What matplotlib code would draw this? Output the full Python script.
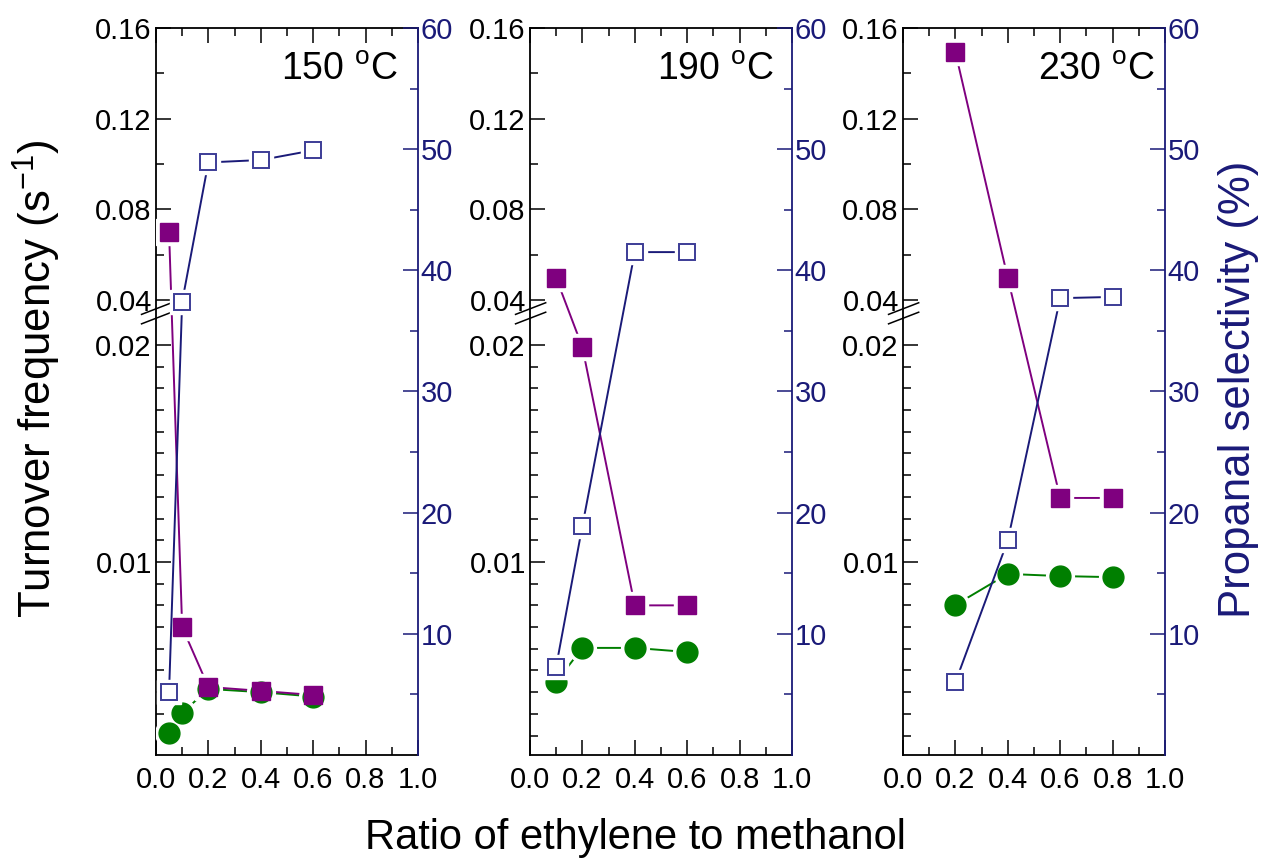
"""Turnover frequency and propanal selectivity vs ethylene/methanol ratio.

Three panels (150, 190, 230 C), broken left axis for TOF and a
right axis for propanal selectivity.
"""

import matplotlib
matplotlib.use("Agg")
import matplotlib.pyplot as plt
import numpy as np
from matplotlib.ticker import FixedLocator, FormatStrFormatter, MultipleLocator

plt.rcParams["font.family"] = ["Liberation Sans", "DejaVu Sans"]
plt.rcParams["mathtext.fontset"] = "custom"
plt.rcParams["mathtext.rm"] = "Liberation Sans"
plt.rcParams["mathtext.it"] = "Liberation Sans:italic"
plt.rcParams["mathtext.bf"] = "Liberation Sans:bold"

# --- data ---
temps = ["150", "190", "230"]

x_150 = [0.05, 0.1, 0.2, 0.4, 0.6]
tof_sq_150 = [0.0700, 0.0070, 0.00424, 0.00406, 0.00387]
tof_ci_150 = [0.00212, 0.00304, 0.00415, 0.00400, 0.00380]
sel_150 = [5.2, 37.4, 48.9, 49.1, 49.9]

x_190 = [0.1, 0.2, 0.4, 0.6]
tof_sq_190 = [0.0497, 0.0199, 0.0080, 0.0080]
tof_ci_190 = [0.00447, 0.00604, 0.00604, 0.00585]
sel_190 = [7.3, 18.9, 41.5, 41.5]

x_230 = [0.2, 0.4, 0.6, 0.8]
tof_sq_230 = [0.1494, 0.0497, 0.01295, 0.01295]
tof_ci_230 = [0.00802, 0.00945, 0.00935, 0.00930]
sel_230 = [6.0, 17.7, 37.7, 37.8]

PURPLE = "#7f007f"
GREEN = "#007f00"
NAVY = "#1a1a78"
SQ_EDGE = "#3c3c96"

# --- broken TOF axis: linear low part, linear high part ---
LOW_REF, LOW_P, LOW_K = 0.01, 193.0, 21700.0     # 0.01 sits 193 px above bottom
HIGH_REF, HIGH_P, HIGH_K = 0.04, 455.0, 2266.7   # 0.04 sits 455 px above bottom
V1, V2 = 0.0215, 0.0365                          # break between these values
P1 = LOW_P + (V1 - LOW_REF) * LOW_K
P2 = HIGH_P + (V2 - HIGH_REF) * HIGH_K
Y_MIN = LOW_REF - LOW_P / LOW_K
Y_MAX = 0.16


def fwd(v):
    v = np.asarray(v, dtype=float)
    low = LOW_P + (v - LOW_REF) * LOW_K
    high = HIGH_P + (v - HIGH_REF) * HIGH_K
    mid = P1 + (v - V1) * (P2 - P1) / (V2 - V1)
    return np.where(v <= V1, low, np.where(v >= V2, high, mid))


def inv(p):
    p = np.asarray(p, dtype=float)
    low = LOW_REF + (p - LOW_P) / LOW_K
    high = HIGH_REF + (p - HIGH_P) / HIGH_K
    mid = V1 + (p - P1) * (V2 - V1) / (P2 - P1)
    return np.where(p <= P1, low, np.where(p >= P2, high, mid))


def series(ax, x, y, marker, color, ms, face, edge, mew):
    ax.plot(x, y, "-", color=color, lw=1.4, zorder=2)
    ax.plot(x, y, ls="none", marker=marker, ms=ms + 5, mfc="white",
            mec="white", zorder=3)
    ax.plot(x, y, ls="none", marker=marker, ms=ms, mfc=face, mec=edge,
            mew=mew, zorder=4)


def panel(left, x, tof_sq, tof_ci, sel, temp, tx):
    ax = fig.add_axes([left, 0.1272, 0.2063, 0.8405])
    ax.set_yscale("function", functions=(fwd, inv))
    ax.set_ylim(Y_MIN, Y_MAX)
    ax.set_xlim(0, 1.0)

    series(ax, x, tof_ci, "o", GREEN, 15, GREEN, GREEN, 1)
    series(ax, x, tof_sq, "s", PURPLE, 13.5, PURPLE, PURPLE, 1)

    ax.yaxis.set_major_locator(FixedLocator([0.01, 0.02, 0.04, 0.08, 0.12, 0.16]))
    minors = [round(0.001 * i, 3) for i in range(2, 20) if i != 10]
    ax.yaxis.set_minor_locator(FixedLocator(minors + [0.06, 0.10, 0.14]))
    ax.yaxis.set_major_formatter(FormatStrFormatter("%g"))
    ax.xaxis.set_major_locator(MultipleLocator(0.2))
    ax.xaxis.set_minor_locator(MultipleLocator(0.1))
    ax.xaxis.set_major_formatter(FormatStrFormatter("%.1f"))
    ax.tick_params(which="both", direction="in", top=True, right=False,
                   width=1.1, labelsize=21)
    ax.tick_params(which="major", length=11)
    ax.tick_params(which="minor", length=5.5)
    ax.tick_params(axis="y", pad=3)
    ax.tick_params(axis="x", pad=8)
    for s in ["left", "top", "bottom"]:
        ax.spines[s].set_linewidth(1.3)
    ax.spines["right"].set_visible(False)

    # break marks on the left spine
    for dy in (0.0, -0.013):
        ax.plot([-0.055, 0.06], [0.606 + dy, 0.622 + dy], transform=ax.transAxes,
                color="black", lw=1.1, clip_on=False, zorder=6)

    ax.text(tx, 0.942, temp + r" $^{\mathrm{o}}$C", transform=ax.transAxes,
            ha="right", va="center", fontsize=27)

    ax2 = ax.twinx()
    ax2.set_ylim(0, 60)
    series(ax2, x, sel, "s", NAVY, 12, "white", SQ_EDGE, 1.4)
    ax2.yaxis.set_major_locator(FixedLocator([10, 20, 30, 40, 50, 60]))
    ax2.yaxis.set_minor_locator(FixedLocator([5, 15, 25, 35, 45, 55]))
    ax2.tick_params(which="both", direction="in", color=NAVY, labelcolor=NAVY,
                    width=1.1, labelsize=21, pad=2)
    ax2.tick_params(which="major", length=11)
    ax2.tick_params(which="minor", length=6)
    ax2.spines["right"].set_color(NAVY)
    ax2.spines["right"].set_linewidth(1.3)
    for s in ["left", "top", "bottom"]:
        ax2.spines[s].set_visible(False)
    return ax, ax2


fig = plt.figure(figsize=(12.7, 8.65), dpi=100)

panel(0.1228, x_150, tof_sq_150, tof_ci_150, sel_150, temps[0], 0.924)
panel(0.4173, x_190, tof_sq_190, tof_ci_190, sel_190, temps[1], 0.931)
panel(0.7110, x_230, tof_sq_230, tof_ci_230, sel_230, temps[2], 0.96)

fig.text(0.029, 0.562, r"Turnover frequency (s$^{-1}$)", rotation=90,
         ha="center", va="center", fontsize=31.5)
fig.text(0.975, 0.55, "Propanal selectivity (%)", rotation=90,
         ha="center", va="center", fontsize=31.5, color=NAVY)
fig.text(0.5, 0.031, "Ratio of ethylene to methanol", ha="center",
         va="center", fontsize=30)

fig.savefig("out.png", dpi=100)
